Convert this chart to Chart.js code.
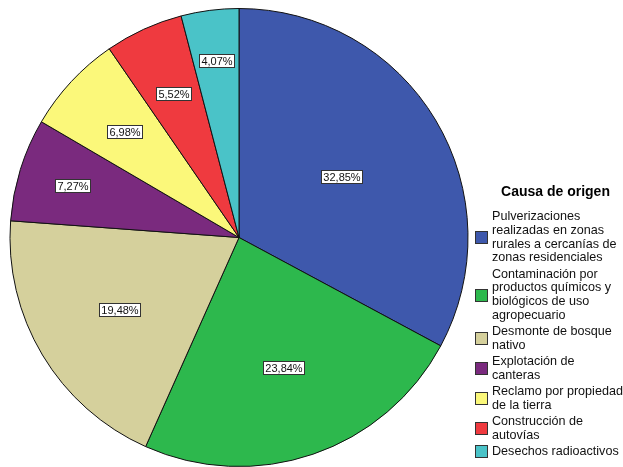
<!DOCTYPE html>
<html>
<head>
<meta charset="utf-8">
<script src="https://cdn.jsdelivr.net/npm/chart.js@4/dist/chart.umd.min.js"></script>
<style>
  body { margin: 0; background: #fff; font-family: "Liberation Sans", Arial, sans-serif; }
  #wrap { position: relative; width: 623px; height: 467px; overflow: hidden; }
  #chart { position: absolute; left: 0; top: 0; }
  #legend { position: absolute; left: 474px; top: 182px; width: 149px; }
  #legend .title { font-weight: bold; font-size: 14px; text-align: center; margin-left: 14px; line-height: 18px; margin-bottom: 10px; }
  #legend .item { display: flex; align-items: center; margin-bottom: 2.4px; }
  #legend .sw { width: 11px; height: 11px; border: 1px solid #333; margin: 0 4px 0 1px; flex: none; }
  #legend .txt { font-size: 12.6px; line-height: 13.8px; color: #111; white-space: nowrap; }
</style>
</head>
<body>
<div id="wrap">
  <canvas id="chart" width="623" height="467"></canvas>
  <div id="legend"></div>
</div>
<script>
const legendTitle = 'Causa de origen';
const categories = [
  'Pulverizaciones\nrealizadas en zonas\nrurales a cercanías de\nzonas residenciales',
  'Contaminación por\nproductos químicos y\nbiológicos de uso\nagropecuario',
  'Desmonte de bosque\nnativo',
  'Explotación de\ncanteras',
  'Reclamo por propiedad\nde la tierra',
  'Construcción de\nautovías',
  'Desechos radioactivos',
];
const percents = [32.85, 23.84, 19.48, 7.27, 6.98, 5.52, 4.07];
const colors = ['#3e58ac', '#2db84d', '#d5d09c', '#7a2a7e', '#fbf87a', '#ef3a3f', '#4ac3c8'];
// where each value box sits along its slice, as a share of the radius
const labelRadius = [0.52, 0.6, 0.61, 0.76, 0.68, 0.69, 0.78];

function fmt(v) {
  return v.toFixed(2).replace('.', ',') + '%';
}

const valueBoxes = {
  id: 'valueBoxes',
  afterDatasetsDraw(chart) {
    const ctx = chart.ctx;
    const meta = chart.getDatasetMeta(0);
    ctx.save();
    ctx.font = '11px "Liberation Sans", Arial, sans-serif';
    ctx.textAlign = 'center';
    ctx.textBaseline = 'middle';
    meta.data.forEach((arc, i) => {
      const mid = (arc.startAngle + arc.endAngle) / 2;
      const r = arc.outerRadius * labelRadius[i];
      const x = arc.x + Math.cos(mid) * r;
      const y = arc.y + Math.sin(mid) * r;
      const text = fmt(percents[i]);
      const w = Math.round(ctx.measureText(text).width + 4);
      const h = 13;
      const bx = Math.round(x - w / 2) + 0.5;
      const by = Math.round(y - h / 2) + 0.5;
      ctx.fillStyle = '#fff';
      ctx.fillRect(bx, by, w, h);
      ctx.strokeStyle = '#333';
      ctx.lineWidth = 1;
      ctx.strokeRect(bx, by, w, h);
      ctx.fillStyle = '#111';
      ctx.fillText(text, bx + w / 2, by + h / 2 + 0.5);
    });
    ctx.restore();
  }
};

new Chart(document.getElementById('chart'), {
  type: 'pie',
  data: {
    labels: categories,
    datasets: [{ data: percents, backgroundColor: colors, borderColor: '#111', borderWidth: 1 }],
  },
  options: {
    responsive: false,
    animation: false,
    layout: { padding: { left: 9, top: 8, right: 154, bottom: 0 } },
    plugins: { legend: { display: false }, tooltip: { enabled: false } },
  },
  plugins: [valueBoxes],
});

const legend = document.getElementById('legend');
legend.innerHTML = `<div class="title">${legendTitle}</div>` + categories.map((c, i) => `
  <div class="item">
    <div class="sw" style="background:${colors[i]}"></div>
    <div class="txt">${c.split('\n').join('<br>')}</div>
  </div>`).join('');
</script>
</body>
</html>
